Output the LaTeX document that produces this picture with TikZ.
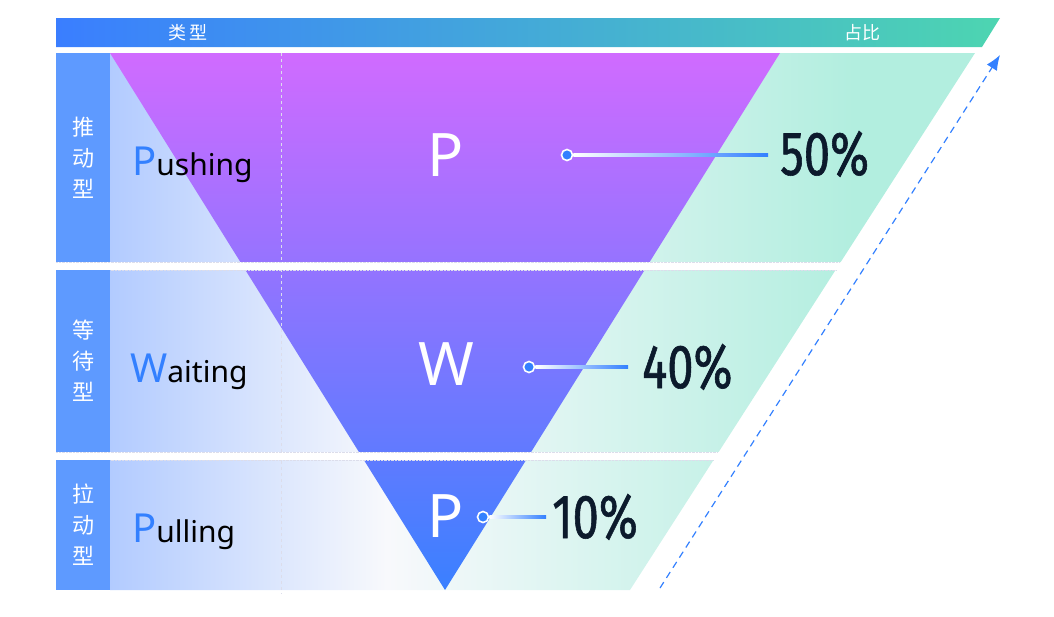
\documentclass[tikz,border=0pt]{standalone}
\usepackage{fontspec}
\setmainfont{Noto Sans}
\newfontfamily\cjkfont{Noto Sans CJK SC}
\newfontfamily\numfont[FakeStretch=0.76,FakeBold=0.9]{Fira Sans}
\usetikzlibrary{arrows.meta}
\definecolor{headblue}{HTML}{3A7EFF}
\definecolor{headteal}{HTML}{4DD5B1}
\definecolor{sideblue}{HTML}{5E9AFF}
\definecolor{bgblue}{HTML}{B2CBFF}
\definecolor{bgwhite}{HTML}{F8F9FC}
\definecolor{bgmint}{HTML}{B2EEDF}
\definecolor{funneltop}{HTML}{D06BFF}
\definecolor{funnelmid}{HTML}{8C75FF}
\definecolor{funnelbot}{HTML}{3A80FF}
\definecolor{dotblue}{HTML}{3380FF}
\definecolor{numdark}{HTML}{0C1A2C}
\definecolor{gridline}{HTML}{DCDDEB}
\pgfdeclarehorizontalshading{bgshade}{100bp}{color(0bp)=(bgblue); color(25bp)=(bgblue); color(41bp)=(bgwhite); color(68bp)=(bgmint); color(100bp)=(bgmint)}
\tikzset{>={Latex[width=12pt,length=15pt]}}

\begin{document}
\begin{tikzpicture}[x=1pt,y=-1pt]
    \tikzset{headtext/.style={text=white,font=\cjkfont\fontsize{18}{18}\selectfont}}
    \tikzset{sidebox/.style={rectangle,fill=sideblue,minimum width=54pt,inner sep=0,align=center,text=white,font=\cjkfont\fontsize{22}{31}\selectfont}}
    \tikzset{rowtext/.style={anchor=base west,inner sep=0,font=\fontsize{30}{30}\selectfont}}
    \tikzset{stagetext/.style={anchor=base,inner sep=0,text=white,font=\fontsize{60}{60}\selectfont}}
    \tikzset{percent/.style={anchor=base west,inner sep=0,text=numdark,font=\numfont\fontsize{62}{62}\selectfont}}
    \tikzset{dot/.style={circle,minimum size=11pt,inner sep=0,fill=dotblue,draw=white,line width=1.6pt}}
    \useasboundingbox (0,0) rectangle (1054,616);
    \shade[left color=headblue,right color=headteal] (56,18) -- (1000,18) -- (982,47) -- (56,47) -- cycle;
    \draw (188,33) node[headtext](h1){类\,型};
    \draw (862,33) node[headtext](h2){占比};
    \shade[shading=bgshade] (110,53) -- (975,53) -- (630,590) -- (110,590) -- cycle;
    \shade[top color=funneltop,middle color=funnelmid,bottom color=funnelbot] (110,53) -- (780,53) -- (445,590) -- cycle;
    \draw[gridline,dashed] (281,53) -- (281,594);
    \fill[white] (56,262) rectangle (850,270);
    \fill[white] (56,452) rectangle (730,460);
    \draw[gridline,densely dotted] (56,262) -- (840,262) (56,270) -- (836,270);
    \draw[gridline,densely dotted] (56,452) -- (718,452) (56,460) -- (713,460);
    \draw (83,157.5) node[sidebox,minimum height=209pt](s1){推\\动\\型};
    \draw (83,361) node[sidebox,minimum height=182pt](s2){等\\待\\型};
    \draw (83,525) node[sidebox,minimum height=130pt](s3){拉\\动\\型};
    \draw (132,175) node[rowtext](t1){\textcolor{dotblue}{\fontsize{40}{40}\selectfont P}ushing};
    \draw (130,382) node[rowtext](t2){\textcolor{dotblue}{\fontsize{40}{40}\selectfont W}aiting};
    \draw (132,542) node[rowtext](t3){\textcolor{dotblue}{\fontsize{40}{40}\selectfont P}ulling};
    \draw (446,176) node[stagetext](l1){P};
    \draw (446,385) node[stagetext](l2){W};
    \draw (446,537) node[stagetext](l3){P};
    \draw (780,175) node[percent](v1){50\%};
    \draw (642,388) node[percent](v2){40\%};
    \draw (552,538) node[percent](v3){10\%};
    \coordinate (e1) at (768,155);
    \coordinate (e2) at (628,367);
    \coordinate (e3) at (546,517);
    \draw (567,155) node[dot](d1){};
    \draw (529,367) node[dot](d2){};
    \draw (483,517) node[dot](d3){};
    \shade[left color=white,right color=dotblue] ([yshift=-1.2pt]d1.east) rectangle ([yshift=1.2pt]e1);
    \shade[left color=white,right color=dotblue] ([yshift=-1.2pt]d2.east) rectangle ([yshift=1.2pt]e2);
    \shade[left color=white,right color=dotblue] ([yshift=-1.2pt]d3.east) rectangle ([yshift=1.2pt]e3);
    \coordinate (a0) at (660,588);
    \coordinate (a1) at (1000,55);
    \draw[->,dotblue,line width=1.2pt,dash pattern=on 7pt off 5pt] (a0) -- (a1);
\end{tikzpicture}
\end{document}
